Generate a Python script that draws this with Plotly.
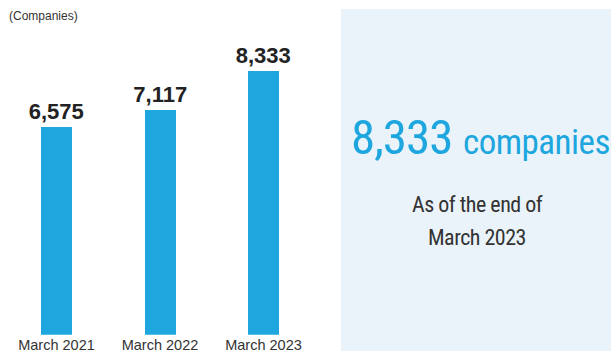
import plotly.graph_objects as go

# Number of companies at each fiscal year end
periods = ["March 2021", "March 2022", "March 2023"]
companies = [6575, 7117, 8333]

# Headline figure shown in the side panel
latest_count = companies[-1]
headline_unit = "companies"
headline_note = ["As of the end of", "March 2023"]

W, H = 611, 353
BLUE = "#1da7de"
PANEL = "#ebf3fa"
COND = "Roboto, sans-serif"
SANS = "Liberation Sans, Arial, sans-serif"


def px(x):
    return x / W


def py(y):
    return 1 - y / H


def condensed(s, spacing):
    return f"<span style='font-stretch:condensed;letter-spacing:{spacing}px'>{s}</span>"


fig = go.Figure()
fig.add_trace(
    go.Bar(
        x=periods,
        y=companies,
        width=0.3,
        marker=dict(color=BLUE, line=dict(width=0)),
        text=[f"{v:,}" for v in companies],
        textposition="outside",
        constraintext="none",
        textfont=dict(family=SANS, size=22, color="#222222", weight="bold"),
        cliponaxis=False,
        hoverinfo="skip",
    )
)

fig.update_layout(
    width=W,
    height=H,
    margin=dict(l=0, r=0, t=0, b=0),
    paper_bgcolor="white",
    plot_bgcolor="rgba(0,0,0,0)",
    showlegend=False,
    bargap=0,
    xaxis=dict(
        domain=[px(4.75), px(315.25)],
        range=[-0.5, 2.5],
        showgrid=False,
        zeroline=False,
        showline=False,
        ticks="",
        tickfont=dict(family=SANS, size=14.5, color="#333333"),
        fixedrange=True,
    ),
    yaxis=dict(
        domain=[py(336.7), 1],
        range=[0, 10588],
        visible=False,
        fixedrange=True,
    ),
    shapes=[
        dict(
            type="rect",
            xref="paper",
            yref="paper",
            x0=px(341),
            x1=1,
            y0=0,
            y1=py(9),
            fillcolor=PANEL,
            line=dict(width=0),
            layer="below",
        )
    ],
)

annotations = [
    dict(
        text="(Companies)",
        x=px(7), y=py(16), xanchor="left", yanchor="middle",
        font=dict(family=SANS, size=12, color="#333333"),
    ),
    dict(
        text=condensed(f"{latest_count:,}", -1),
        x=px(349), y=py(138.3), xanchor="left", yanchor="middle",
        font=dict(family=COND, size=49, color=BLUE),
    ),
    dict(
        text=condensed(headline_unit, -0.5),
        x=px(461), y=py(143.1), xanchor="left", yanchor="middle",
        font=dict(family=COND, size=35, color=BLUE),
    ),
    dict(
        text=condensed(headline_note[0], -0.5),
        x=px(477.3), y=py(205.8), xanchor="center", yanchor="middle",
        font=dict(family=COND, size=22, color="#333333"),
    ),
    dict(
        text=condensed(headline_note[1], -0.5),
        x=px(477.3), y=py(239.2), xanchor="center", yanchor="middle",
        font=dict(family=COND, size=22, color="#333333"),
    ),
]
for a in annotations:
    a.update(xref="paper", yref="paper", showarrow=False)
fig.update_layout(annotations=annotations)

fig.write_html("out.html")
